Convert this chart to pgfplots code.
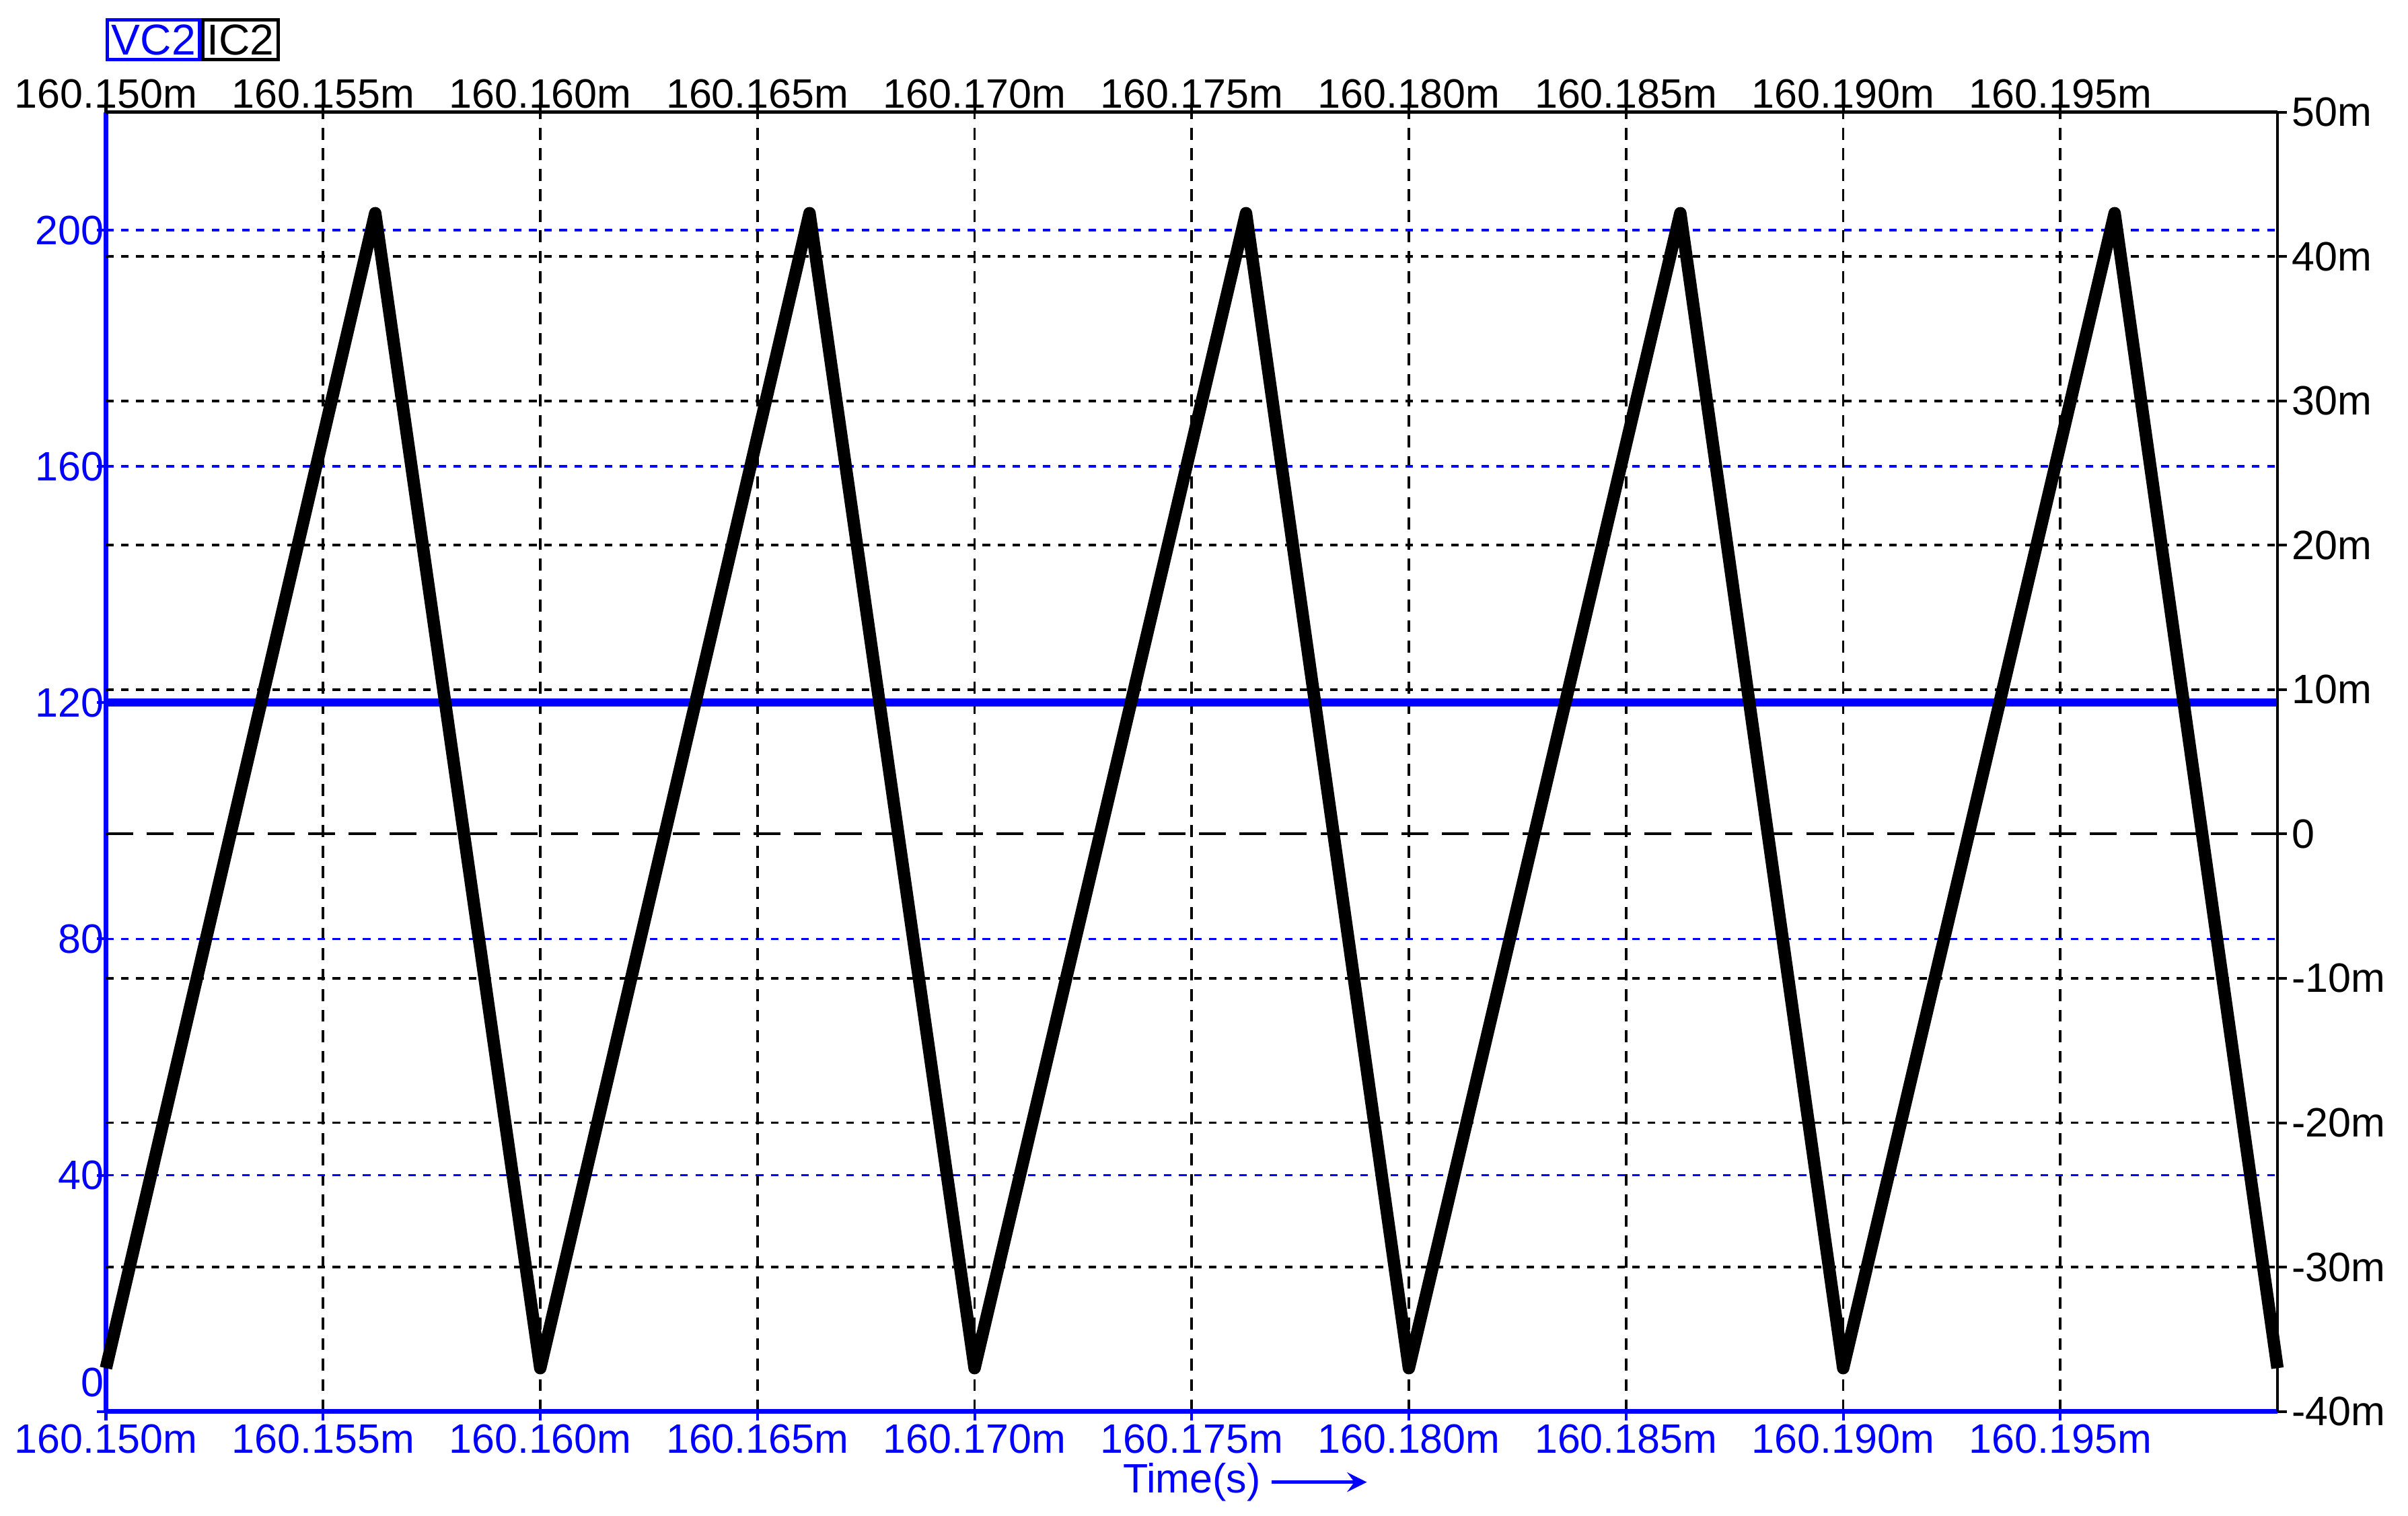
\documentclass[border=0pt]{standalone}
\usepackage{pgfplots}
\pgfplotsset{compat=1.18}
\usepackage{fontspec}
\setmainfont{Liberation Sans}
\definecolor{pblue}{RGB}{0,0,255}
\begin{document}
\begin{tikzpicture}
\useasboundingbox (-0.69cm,-0.68cm) rectangle (14.99cm,9.19cm);
\pgfplotsset{common/.style={
  width=14.14cm, height=8.46cm, scale only axis,
  at={(0,0)}, anchor=south west,
  xmin=0, xmax=50,
  xtick={0,5,...,45},
  xticklabels={160.150m,160.155m,160.160m,160.165m,160.170m,160.175m,160.180m,160.185m,160.190m,160.195m},
  tick label style={font=\fontsize{7.6}{9}\selectfont},
  tick align=outside, major tick length=0.06cm,
  clip=false,
}}
% VC2 axis (left, bottom)
\begin{axis}[common,
  ymin=0, ymax=220,
  axis x line*=bottom, axis y line*=left,
  axis line style={pblue, line width=0.9pt},
  ytick={40,80,120,160,200},
  yticklabels={40,80,120,160,200},
  extra y ticks={0}, extra y tick labels={\textcolor{pblue}{0}},
  extra y tick style={grid=none, tick style={pblue}, yticklabel style={anchor=south east, yshift=-0.03cm}},
  ticklabel style={text=pblue},
  xticklabel style={yshift=0.1cm},
  yticklabel style={xshift=0.17cm},
  tick style={pblue, line width=0.5pt},
  xmajorgrids, ymajorgrids,
  x grid style={black, line width=0.45pt, dash pattern=on 2.2pt off 1.6pt},
  y grid style={pblue, line width=0.45pt, dash pattern=on 1.4pt off 1.4pt},
  xlabel={Time(s)},
  xlabel style={name=xl, text=pblue, font=\fontsize{7.6}{9}\selectfont,
    at={(rel axis cs:0.5,0)}, anchor=center, yshift=-0.46cm},
]
\addplot[pblue, line width=1.5pt] coordinates {(0,120) (50,120)};
\end{axis}
% IC2 axis (right, top)
\begin{axis}[common,
  ymin=-40, ymax=50,
  axis x line*=top, axis y line*=right,
  axis line style={black, line width=0.6pt},
  xticklabel style={yshift=-0.16cm},
  yticklabel style={xshift=-0.09cm},
  ytick={-40,-30,-20,-10,0,10,20,30,40,50},
  yticklabels={-40m,-30m,-20m,-10m,0,10m,20m,30m,40m,50m},
  ticklabel style={text=black},
  tick style={black, line width=0.5pt},
  ymajorgrids={false},
]
\addplot[black, line width=0.45pt, dash pattern=on 1.4pt off 1.4pt, forget plot] coordinates {(0,-30) (50,-30)};
\addplot[black, line width=0.45pt, dash pattern=on 1.4pt off 1.4pt, forget plot] coordinates {(0,-20) (50,-20)};
\addplot[black, line width=0.45pt, dash pattern=on 1.4pt off 1.4pt, forget plot] coordinates {(0,-10) (50,-10)};
\addplot[black, line width=0.5pt, dash pattern=on 5pt off 2.5pt, forget plot] coordinates {(0,0) (50,0)};
\addplot[black, line width=0.45pt, dash pattern=on 1.4pt off 1.4pt, forget plot] coordinates {(0,10) (50,10)};
\addplot[black, line width=0.45pt, dash pattern=on 1.4pt off 1.4pt, forget plot] coordinates {(0,20) (50,20)};
\addplot[black, line width=0.45pt, dash pattern=on 1.4pt off 1.4pt, forget plot] coordinates {(0,30) (50,30)};
\addplot[black, line width=0.45pt, dash pattern=on 1.4pt off 1.4pt, forget plot] coordinates {(0,40) (50,40)};
\addplot[black, line width=2.3pt, line join=round] coordinates {
  (0,-37) (6.2,43) (10,-37) (16.2,43) (20,-37) (26.25,43) (30,-37) (36.25,43) (40,-37) (46.25,43) (50,-37)};
\end{axis}
\draw[pblue, line width=0.6pt, -stealth] ([xshift=-1.5pt]xl.east) -- (8.21cm, 0 |- xl.east);
\node[draw=pblue, line width=0.6pt, text=pblue, minimum width=0.6cm, minimum height=0.26cm, inner sep=0pt,
  anchor=south west, font=\fontsize{8}{9}\selectfont] at (0,8.79) {VC2};
\node[draw=black, line width=0.6pt, text=black, minimum width=0.49cm, minimum height=0.26cm, inner sep=0pt,
  anchor=south west, font=\fontsize{8}{9}\selectfont] at (0.62,8.79) {IC2};
\end{tikzpicture}
\end{document}
